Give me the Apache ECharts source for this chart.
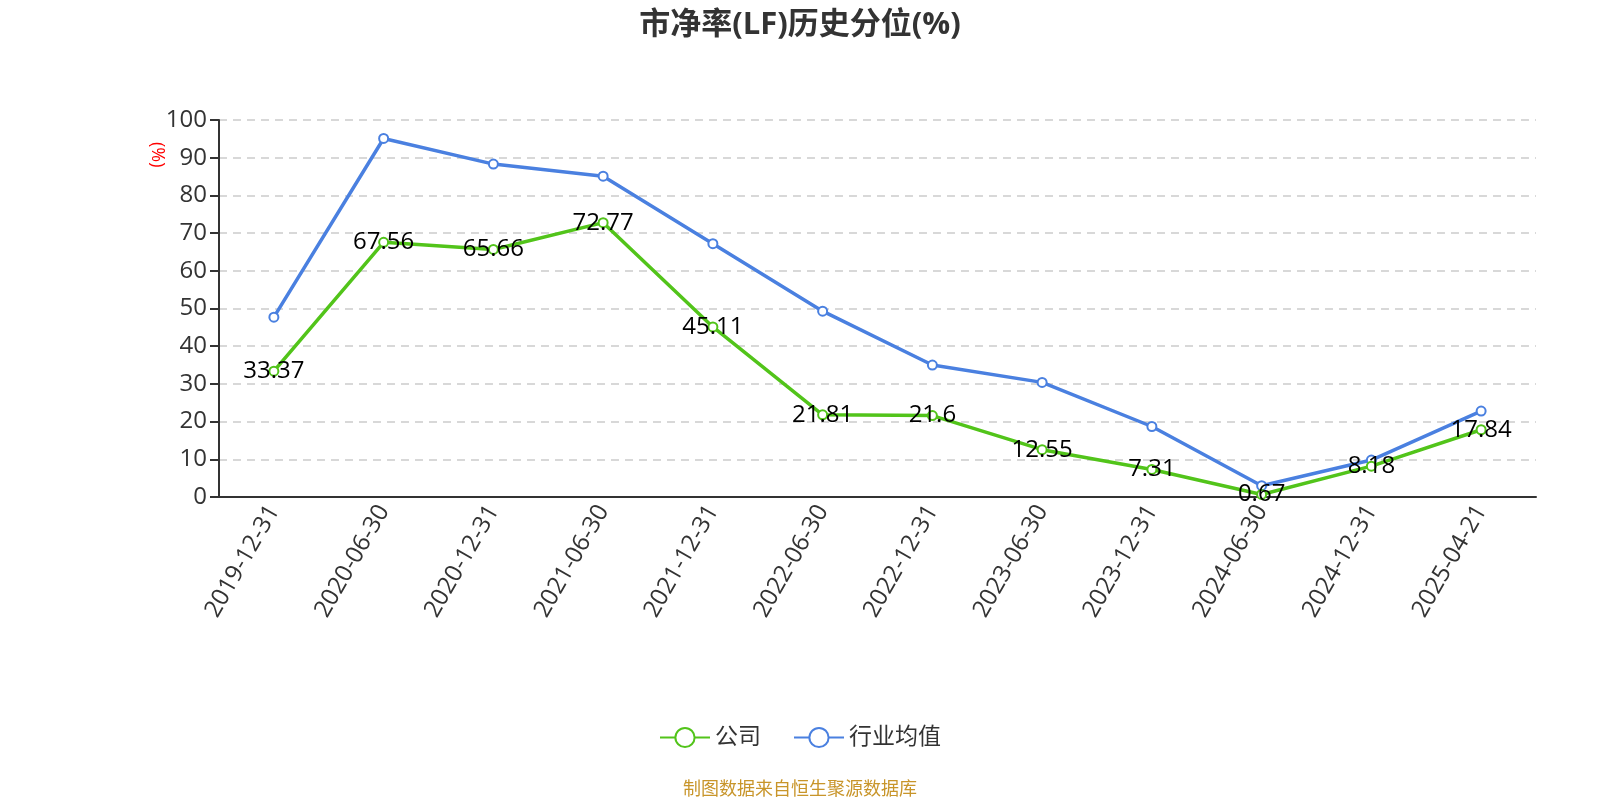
<!DOCTYPE html>
<html><head><meta charset="utf-8">
<script src="https://cdn.jsdelivr.net/npm/echarts@6/dist/echarts.min.js"></script>
<style>html,body{margin:0;padding:0;background:#fff}#c{width:1600px;height:800px}</style>
</head><body><div id="c"></div>
<script>
const categories = ['2019-12-31','2020-06-30','2020-12-31','2021-06-30','2021-12-31','2022-06-30','2022-12-31','2023-06-30','2023-12-31','2024-06-30','2024-12-31','2025-04-21'];
const companyValues = [33.37, 67.56, 65.66, 72.77, 45.11, 21.81, 21.6, 12.55, 7.31, 0.67, 8.18, 17.84];
const industryValues = [47.7, 95.1, 88.3, 85.1, 67.2, 49.3, 35.0, 30.4, 18.7, 3.0, 9.8, 22.8];
const seriesNames = ['公司', '行业均值'];
const titleText = '市净率(LF)历史分位(%)';
const sourceText = '制图数据来自恒生聚源数据库';
const yAxisName = '(%)';

const font = '"Open Sans","Noto Sans CJK SC",sans-serif';
const chart = echarts.init(document.getElementById('c'));
chart.setOption({
  backgroundColor: '#fff',
  textStyle: { fontFamily: font },
  title: {
    text: titleText, left: 'center', top: 5,
    textStyle: { fontSize: 31, fontWeight: 'bold', color: '#333', fontFamily: font }
  },
  legend: {
    top: 721, left: 'center', itemWidth: 50, itemHeight: 24, itemGap: 32,
    textStyle: { fontSize: 23, color: '#333', fontFamily: font },
    data: seriesNames
  },
  grid: { left: 219, right: 64, top: 120, bottom: 303 },
  xAxis: {
    type: 'category', data: categories, boundaryGap: true,
    axisLine: { lineStyle: { color: '#333', width: 2 } },
    axisTick: { length: 8, lineStyle: { color: '#333', width: 2 } },
    axisLabel: { rotate: 60, fontSize: 24, color: '#333', margin: 10, fontFamily: font }
  },
  yAxis: {
    type: 'value', min: 0, max: 100, interval: 10,
    axisLine: { show: true, lineStyle: { color: '#333', width: 2 } },
    axisTick: { show: true, length: 9, lineStyle: { color: '#333', width: 2 } },
    axisLabel: { fontSize: 24, color: '#333', margin: 12, fontFamily: font },
    splitLine: { lineStyle: { type: [8, 6], color: '#ccc', width: 1.5 } }
  },
  graphic: [
    { type: 'text', left: 148, top: 142, rotation: -Math.PI / 2,
      style: { text: yAxisName, fill: 'red', fontSize: 18, fontFamily: font } },
    { type: 'text', left: 'center', top: 781,
      style: { text: sourceText, fill: '#c8952a', fontSize: 18, fontFamily: font } }
  ],
  series: [
    {
      name: seriesNames[0], type: 'line', data: companyValues, z: 3,
      symbol: 'emptyCircle', symbolSize: 9,
      lineStyle: { width: 3.5, color: '#52c41a' },
      itemStyle: { color: '#52c41a', borderWidth: 2 },
      label: { show: true, position: 'inside', fontSize: 24, color: '#000', fontFamily: font }
    },
    {
      name: seriesNames[1], type: 'line', data: industryValues, z: 2,
      symbol: 'emptyCircle', symbolSize: 9,
      lineStyle: { width: 3.5, color: '#4a80e0' },
      itemStyle: { color: '#4a80e0', borderWidth: 2 }
    }
  ]
});
</script></body></html>
